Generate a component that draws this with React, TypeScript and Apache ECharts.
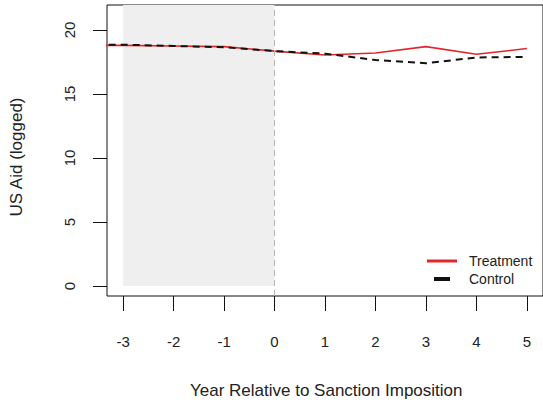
import React, { useEffect, useRef } from "react";
import * as echarts from "echarts";

// Years relative to sanction imposition (year -4 sits just outside the left edge of the box)
const years = [-4, -3, -2, -1, 0, 1, 2, 3, 4, 5];
const treatment = [18.8, 18.8, 18.75, 18.7, 18.35, 18.05, 18.2, 18.7, 18.1, 18.55];
const control = [18.85, 18.85, 18.75, 18.65, 18.35, 18.15, 17.65, 17.4, 17.85, 17.9];
const xTicks = [-3, -2, -1, 0, 1, 2, 3, 4, 5];
const yTicks = [0, 5, 10, 15, 20];
// pre-sanction window shaded in grey
const preWindow = [-3, 0];

const FONT = "'Liberation Sans', Arial, sans-serif";
const TXT = "#222";

export default function App() {
  const ref = useRef<HTMLDivElement>(null);

  useEffect(() => {
    if (!ref.current) return;
    const chart = echarts.init(ref.current, undefined, { renderer: "svg" });
    const pair = (ys: number[]) => years.map((x, i) => [x, ys[i]]);

    chart.setOption({
      animation: false,
      backgroundColor: "#fff",
      textStyle: { fontFamily: FONT },
      grid: {
        left: 107,
        top: 5,
        width: 438,
        height: 291,
        show: true,
        borderColor: "#111",
        borderWidth: 1,
        backgroundColor: "transparent",
      },
      xAxis: {
        type: "value",
        min: -3.32,
        max: 5.32,
        splitLine: { show: false },
        axisLine: { show: false, onZero: false },
        axisTick: {
          show: true,
          customValues: xTicks,
          length: 15,
          lineStyle: { color: "#111", width: 1 },
        },
        axisLabel: {
          customValues: xTicks,
          margin: 38,
          fontSize: 15,
          color: TXT,
          fontFamily: FONT,
        },
      },
      yAxis: {
        type: "value",
        min: -0.78,
        max: 21.95,
        splitLine: { show: false },
        axisLine: { show: false, onZero: false },
        axisTick: {
          show: true,
          customValues: yTicks,
          length: 14,
          lineStyle: { color: "#111", width: 1 },
        },
        axisLabel: {
          customValues: yTicks,
          rotate: 90,
          margin: 30,
          fontSize: 15,
          color: TXT,
          fontFamily: FONT,
        },
      },
      legend: [
        {
          data: [{ name: "Treatment", icon: "rect" }],
          left: 427,
          top: 254,
          itemWidth: 30,
          itemHeight: 3,
          padding: 0,
          textStyle: { fontSize: 14, color: TXT, fontFamily: FONT, padding: [0, 0, 0, 7] },
        },
        {
          data: [{ name: "Control", icon: "rect" }],
          left: 434,
          top: 272,
          itemWidth: 16,
          itemHeight: 4,
          padding: 0,
          textStyle: { fontSize: 14, color: TXT, fontFamily: FONT, padding: [0, 0, 0, 14] },
        },
      ],
      graphic: [
        {
          type: "text",
          left: 190,
          top: 382,
          style: {
            text: "Year Relative to Sanction Imposition",
            font: `17px ${FONT}`,
            fill: TXT,
          },
        },
        {
          type: "text",
          x: 8,
          y: 157,
          rotation: Math.PI / 2,
          style: {
            text: "US Aid (logged)",
            font: `17px ${FONT}`,
            fill: TXT,
            align: "center",
            verticalAlign: "top",
          },
        },
      ],
      series: [
        {
          // carries the shaded window and the dashed reference line at year 0
          name: "window",
          type: "line",
          data: [],
          clip: false,
          z: 1,
          markArea: {
            silent: true,
            itemStyle: { color: "#efefef" },
            data: [[{ xAxis: preWindow[0], yAxis: 0 }, { xAxis: preWindow[1], yAxis: 22.3 }]],
          },
          markLine: {
            silent: true,
            symbol: ["none", "none"],
            label: { show: false },
            lineStyle: { color: "#b5b5b5", type: [6, 4], width: 1 },
            data: [{ xAxis: 0 }],
          },
        },
        {
          name: "Treatment",
          type: "line",
          data: pair(treatment),
          showSymbol: false,
          symbol: "none",
          clip: true,
          z: 3,
          lineStyle: { color: "#e3262b", width: 1.6 },
          itemStyle: { color: "#e3262b" },
        },
        {
          name: "Control",
          type: "line",
          data: pair(control),
          showSymbol: false,
          symbol: "none",
          clip: true,
          z: 4,
          lineStyle: { color: "#111", width: 2, type: [7, 5] },
          itemStyle: { color: "#111" },
        },
      ],
    });

    return () => chart.dispose();
  }, []);

  return <div ref={ref} style={{ width: 543, height: 409, position: "absolute", left: 0, top: 0 }} />;
}
